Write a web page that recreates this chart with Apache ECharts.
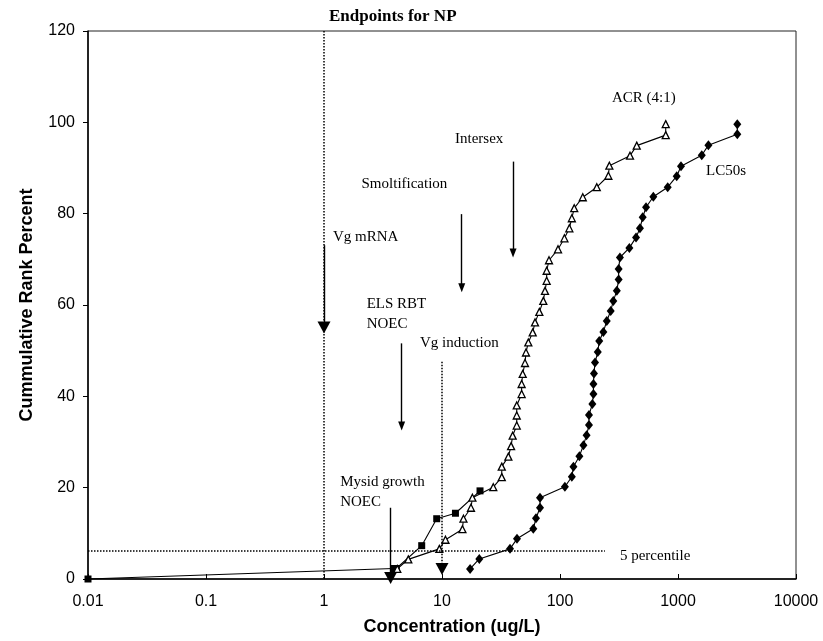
<!DOCTYPE html>
<html>
<head>
<meta charset="utf-8">
<script src="https://cdn.jsdelivr.net/npm/echarts@6/dist/echarts.min.js"></script>
<style>
  html, body { margin: 0; padding: 0; background: #fff; }
  #chart { width: 823px; height: 641px; }
</style>
</head>
<body>
<div id="chart"></div>
<script>
// tick labels
const xTickLabels = ['0.01', '0.1', '1', '10', '100', '1000', '10000']

// ACR (4:1) - open triangles
const acrConc = [4.18, 5.18, 9.49, 10.7, 14.9, 15.2, 17.6, 18.1, 27.2, 32.1, 32.1, 36.5, 38.5, 39.7, 43.0, 43.0, 43.0,
  47.3, 47.3, 48.3, 50.5, 51.5, 53.9, 58.7, 61.4, 66.8, 72.2, 74.6, 77.1, 77.1, 80.7, 96.2, 109, 120, 126, 132,
  156, 205, 257, 262, 392, 447, 787, 787]
const acrRank = [2.2, 4.3, 6.6, 8.6, 10.9, 13.2, 15.6, 17.8, 20.1, 22.3, 24.6, 26.8, 29.1, 31.4, 33.6, 35.8, 38.0,
  40.5, 42.7, 44.9, 47.3, 49.6, 51.8, 54.0, 56.2, 58.5, 60.9, 63.1, 65.3, 67.5, 69.8, 72.2, 74.6, 76.8, 79.0, 81.2,
  83.6, 85.8, 88.3, 90.5, 92.7, 94.9, 97.2, 99.6]

// LC50s - filled diamonds
const lc50Conc = [17.3, 20.7, 37.7, 43.2, 59.4, 62.6, 67.7, 67.7, 110, 126, 130, 146, 158, 168, 176, 176, 188, 192,
  192, 194, 198, 209, 215, 233, 249, 269, 283, 303, 314, 314, 322, 387, 441, 476, 502, 536, 618, 818, 975, 1060,
  1590, 1810, 3180, 3180]
const lc50Rank = [2.2, 4.4, 6.6, 8.8, 11.0, 13.3, 15.6, 17.8, 20.2, 22.4, 24.6, 26.9, 29.3, 31.5, 33.7, 35.9, 38.3,
  40.5, 42.7, 45.0, 47.4, 49.7, 52.1, 54.1, 56.5, 58.7, 60.9, 63.1, 65.6, 67.9, 70.4, 72.5, 74.8, 76.8, 79.2, 81.4,
  83.7, 85.8, 88.2, 90.4, 92.8, 95.0, 97.4, 99.6]

// chronic endpoints - filled squares
const sqConc = [0.01, 3.9, 4.1, 6.73, 9.02, 13.0, 21.0]
const sqRank = [0, 2.3, 2.3, 7.3, 13.2, 14.4, 19.3]

// endpoint arrows: [conc, fromRank, toRank]
const arrowConc = [1.0, 14.7, 40, 4.55, 3.67]
const arrowFrom = [73.1, 79.9, 91.4, 51.6, 15.6]
const arrowTo = [55.1, 63.8, 71.4, 33.5, 0.2]
const arrowBig = [true, false, false, false, true]

// dotted reference lines
const vLineConc = 1
const vgInductionConc = 10
const vgInductionFrom = 47.6
const vgInductionTo = 2.2
const pct5Rank = 6.1
const pct5End = 240

// annotations
const noteText = ['Vg mRNA', 'Smoltification', 'Intersex', 'ACR (4:1)', 'LC50s', 'ELS RBT\nNOEC', 'Vg induction',
  'Mysid growth\nNOEC', '5 percentile']
const noteConc = [1.19, 2.08, 12.9, 276, 1726, 2.30, 6.51, 1.37, 322]
const noteRank = [74.9, 86.4, 96.3, 105.3, 89.4, 58.0, 51.6, 19.0, 5.0]

const pairs = (xs, ys) => xs.map((x, i) => [x, ys[i]])

const serif = 'Liberation Serif, Times New Roman, serif'
const sans = 'Liberation Sans, Arial, sans-serif'

const dotted = { type: 'dotted', width: 1.5, color: '#000' }

const guideLines = []
// x = 1 full-height dotted line
guideLines.push([
  { coord: [vLineConc, 120], symbol: 'none' },
  { coord: [vLineConc, 0], symbol: 'none', lineStyle: dotted },
])
// 5 percentile
guideLines.push([
  { coord: [0.01, pct5Rank], symbol: 'none' },
  { coord: [pct5End, pct5Rank], symbol: 'none', lineStyle: dotted },
])
// Vg induction dotted arrow
guideLines.push([
  { coord: [vgInductionConc, vgInductionFrom], symbol: 'none' },
  { coord: [vgInductionConc, vgInductionTo], symbol: 'triangle', symbolSize: [13, 12], lineStyle: dotted },
])
arrowConc.forEach((c, i) => {
  guideLines.push([
    { coord: [c, arrowFrom[i]], symbol: 'none' },
    { coord: [c, arrowTo[i]], symbol: 'triangle', symbolSize: arrowBig[i] ? [13, 12] : [7, 9],
      lineStyle: { type: 'solid', width: 1.4, color: '#000' } },
  ])
})

const chart = echarts.init(document.getElementById('chart'))

chart.setOption({
  animation: false,
  backgroundColor: '#fff',
  title: {
    text: 'Endpoints for NP',
    left: 329,
    top: 8,
    padding: 0,
    textStyle: { fontFamily: serif, fontSize: 17, fontWeight: 'bold', color: '#000' },
  },
  grid: {
    left: 88,
    right: 27,
    top: 31,
    bottom: 62,
    show: true,
    borderColor: '#222',
    borderWidth: 1,
    outerBoundsMode: 'none',
  },
  xAxis: {
    type: 'log',
    logBase: 10,
    min: 0.01,
    max: 10000,
    name: 'Concentration (ug/L)',
    nameLocation: 'middle',
    nameGap: 39,
    nameTextStyle: { fontFamily: sans, fontSize: 18, fontWeight: 'bold', color: '#000', padding: [0, 0, 0, 20] },
    axisLine: { lineStyle: { color: '#000', width: 1.5 } },
    axisTick: { inside: true, length: 5, lineStyle: { color: '#000' } },
    axisLabel: {
      fontFamily: sans,
      fontSize: 16,
      color: '#000',
      margin: 15,
      formatter: (v) => xTickLabels[Math.round(Math.log10(v)) + 2],
    },
    splitLine: { show: false },
    minorTick: { show: false },
  },
  yAxis: {
    type: 'value',
    min: 0,
    max: 120,
    interval: 20,
    name: 'Cummulative Rank Percent',
    nameLocation: 'middle',
    nameGap: 52,
    nameTextStyle: { fontFamily: sans, fontSize: 18, fontWeight: 'bold', color: '#000' },
    axisLine: { show: true, lineStyle: { color: '#000', width: 1.5 } },
    axisTick: { show: true, length: 5, lineStyle: { color: '#000' } },
    axisLabel: { fontFamily: sans, fontSize: 16, color: '#000', margin: 13 },
    splitLine: { show: false },
  },
  series: [
    {
      name: 'guides',
      type: 'line',
      data: [],
      silent: true,
      markLine: {
        silent: true,
        animation: false,
        label: { show: false },
        emphasis: { disabled: true },
        lineStyle: { color: '#000', width: 1.4 },
        itemStyle: { color: '#000' },
        data: guideLines,
      },
    },
    {
      name: 'Chronic',
      type: 'line',
      data: pairs(sqConc, sqRank),
      symbol: 'rect',
      symbolSize: 7,
      itemStyle: { color: '#000' },
      lineStyle: { color: '#000', width: 1.1 },
      z: 3,
    },
    {
      name: 'ACR (4:1)',
      type: 'line',
      data: pairs(acrConc, acrRank),
      symbol: 'triangle',
      symbolSize: 7,
      showAllSymbol: true,
      itemStyle: { color: '#fff', borderColor: '#000', borderWidth: 1.3 },
      lineStyle: { color: '#000', width: 1.1 },
      z: 4,
    },
    {
      name: 'LC50s',
      type: 'line',
      data: pairs(lc50Conc, lc50Rank),
      symbol: 'diamond',
      symbolSize: [8, 10],
      showAllSymbol: true,
      itemStyle: { color: '#000' },
      lineStyle: { color: '#000', width: 1.1 },
      z: 4,
    },
    {
      name: 'notes',
      type: 'scatter',
      silent: true,
      symbolSize: 0,
      itemStyle: { opacity: 1 },
      data: noteText.map((t, i) => ({ name: t, value: [noteConc[i], noteRank[i]] })),
      label: {
        show: true,
        position: 'right',
        distance: 0,
        formatter: (p) => p.name,
        fontFamily: serif,
        fontSize: 15,
        lineHeight: 20,
        color: '#000',
        opacity: 1,
        textBorderWidth: 0,
      },
      z: 5,
    },
  ],
})
</script>
</body>
</html>
